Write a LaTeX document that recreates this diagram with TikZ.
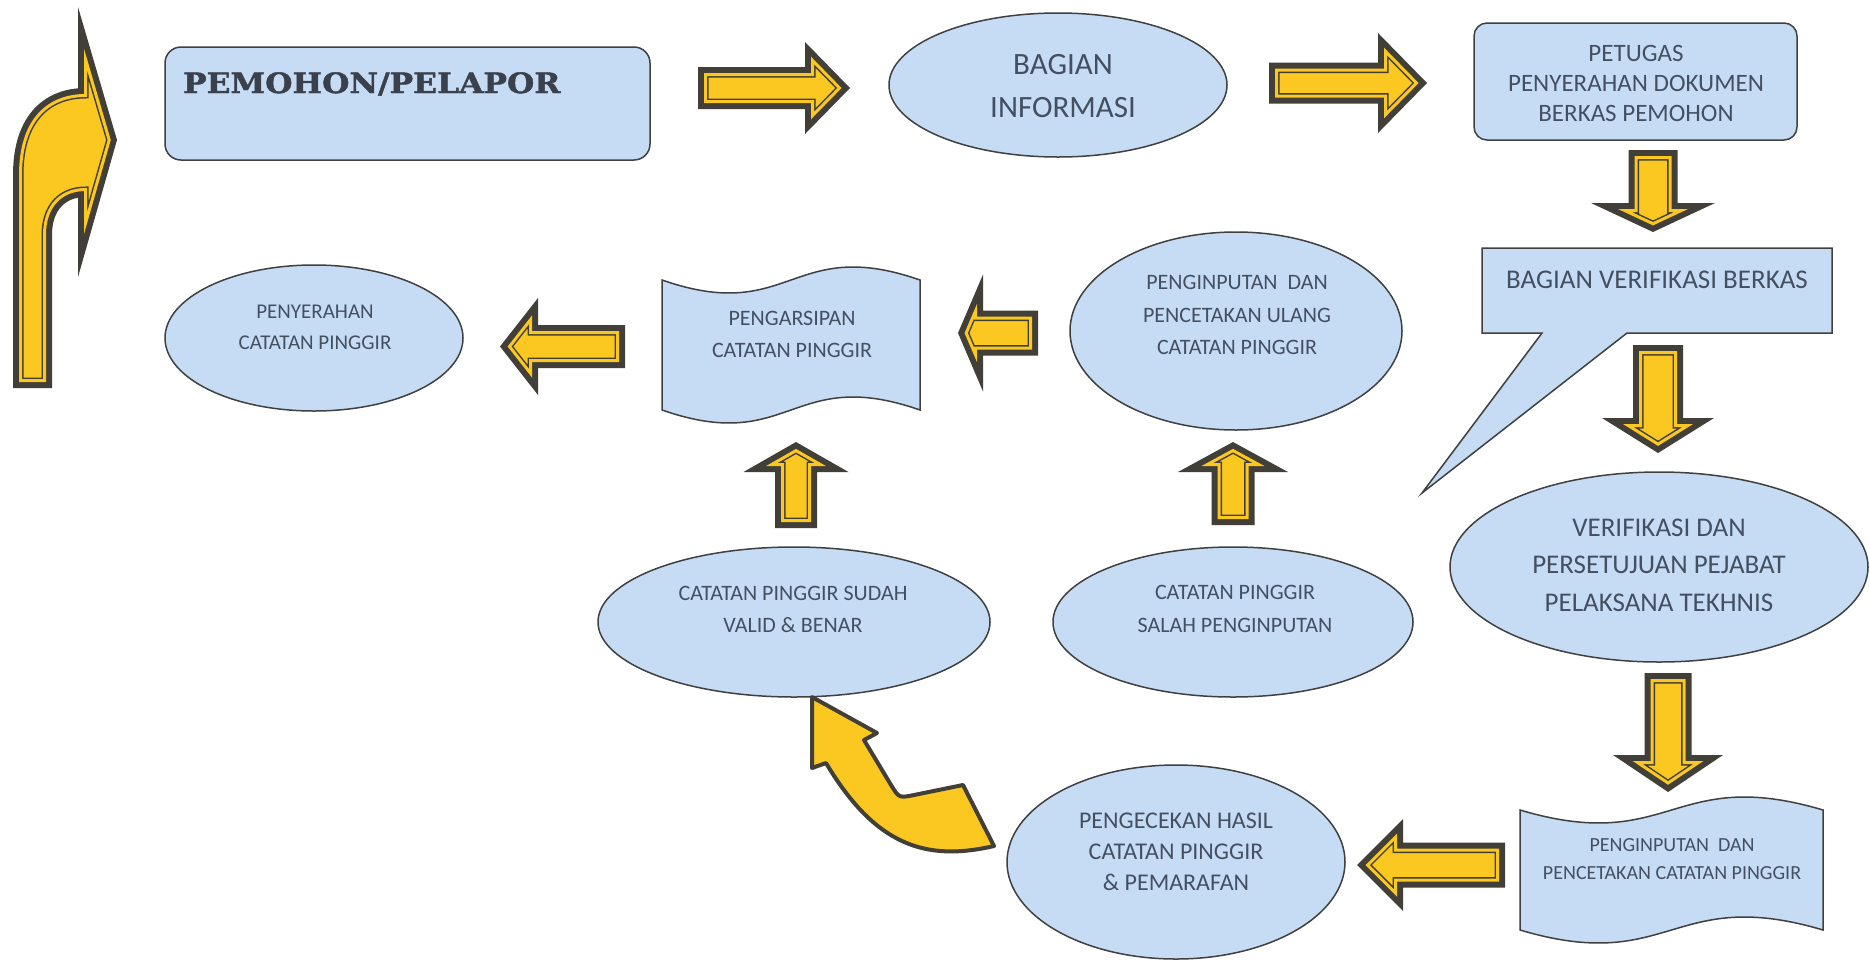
\documentclass[tikz,border=0pt]{standalone}
\usepackage{fontspec}
\setmainfont{Carlito}
\newfontfamily\slabfont{DejaVu Serif}[BoldFeatures={FakeBold=1.4}]
\usetikzlibrary{shapes.geometric,calc}

\definecolor{boxfill}{RGB}{198,220,244}
\definecolor{boxline}{RGB}{64,64,64}
\definecolor{labeltext}{RGB}{68,80,98}
\definecolor{titletext}{RGB}{58,64,76}
\definecolor{agold}{RGB}{250,200,32}
\definecolor{adark}{RGB}{66,62,56}

\tikzset{
  shapebox/.style={fill=boxfill, draw=boxline, line width=1.5pt},
  oval/.style={shapebox, ellipse, inner sep=0pt},
  plain/.style={inner sep=0pt, outer sep=0pt},
  lbl/.style={text=labeltext, align=center, inner sep=0pt},
  blk/.style={line join=miter,
    preaction={draw=adark, line width=15pt, line join=miter},
    fill=agold,
    postaction={draw=adark, line width=1.5pt, double=agold, double distance=3pt, line join=miter}},
  swoosh/.style={fill=agold, draw=adark, line width=4pt, line join=round},
}

% inset of the yellow band from the outer dark outline
\def\blkD{7.5}

% horizontal block arrow, given its outer outline:
% #1 centre y, #2 tail x, #3 tip x, #4 body half width, #5 head half width, #6 head length
\newcommand\blkh[6]{%
  \pgfmathsetmacro\blkS{sign(#3-#2)}%
  \pgfmathsetmacro\blkL{sqrt((#6)^2+(#5)^2)}%
  \pgfmathsetmacro\blkT{#2+\blkS*\blkD}%
  \pgfmathsetmacro\blkB{#3-\blkS*(#6)+\blkS*\blkD}%
  \pgfmathsetmacro\blkP{#3-\blkS*\blkD*\blkL/(#5)}%
  \pgfmathsetmacro\blkW{#4-\blkD}%
  \pgfmathsetmacro\blkH{#5-\blkD*(#5)/(#6)-\blkD*\blkL/(#6)}%
  \path[blk] ({\blkT},{#1-\blkW}) -- ({\blkB},{#1-\blkW}) -- ({\blkB},{#1-\blkH})
    -- ({\blkP},{#1}) -- ({\blkB},{#1+\blkH}) -- ({\blkB},{#1+\blkW})
    -- ({\blkT},{#1+\blkW}) -- cycle;}

% vertical block arrow: #1 centre x, #2 tail y, #3 tip y, #4 body half width, #5 head half width, #6 head length
\newcommand\blkv[6]{%
  \pgfmathsetmacro\blkS{sign(#3-#2)}%
  \pgfmathsetmacro\blkL{sqrt((#6)^2+(#5)^2)}%
  \pgfmathsetmacro\blkT{#2+\blkS*\blkD}%
  \pgfmathsetmacro\blkB{#3-\blkS*(#6)+\blkS*\blkD}%
  \pgfmathsetmacro\blkP{#3-\blkS*\blkD*\blkL/(#5)}%
  \pgfmathsetmacro\blkW{#4-\blkD}%
  \pgfmathsetmacro\blkH{#5-\blkD*(#5)/(#6)-\blkD*\blkL/(#6)}%
  \path[blk] ({#1-\blkW},{\blkT}) -- ({#1-\blkW},{\blkB}) -- ({#1-\blkH},{\blkB})
    -- ({#1},{\blkP}) -- ({#1+\blkH},{\blkB}) -- ({#1+\blkW},{\blkB})
    -- ({#1+\blkW},{\blkT}) -- cycle;}

\begin{document}
\begin{tikzpicture}[x=1pt, y=-1pt]
\useasboundingbox (0,0) rectangle (1870,962);
\fill[white] (0,0) rectangle (1870,962);

% ---------- shapes ----------
\node[shapebox, rounded corners=16pt, minimum width=485pt, minimum height=113pt, plain] (pemohon) at (407.5,103.5) {};
\node[oval, minimum width=338pt, minimum height=144pt] (info) at (1058,85) {};
\node[shapebox, rounded corners=13pt, minimum width=323pt, minimum height=117pt, plain] (petugas) at (1635.5,81.5) {};

\node[plain, minimum width=350pt, minimum height=85pt] (verif) at (1657,290.5) {};
\coordinate (verif-tip) at (1422,493);
\path[shapebox] (verif.north west) -- (verif.north east) -- (verif.south east)
  -- ($(verif.south west)+(145,0)$) -- (verif-tip) -- ($(verif.south west)+(60,0)$)
  -- (verif.south west) -- cycle;

\node[oval, minimum width=418pt, minimum height=190pt] (verifdan) at (1659,567) {};

\node[plain, minimum width=303pt, minimum height=120pt] (input) at (1671.5,870) {};
\path[shapebox] (input.north west) .. controls ($(input.north)+(0,45)$) and ($(input.north)+(0,-45)$) .. (input.north east)
  -- (input.south east) .. controls ($(input.south)+(0,-45)$) and ($(input.south)+(0,45)$) .. (input.south west) -- cycle;

\node[oval, minimum width=338pt, minimum height=194pt] (cek) at (1176,862) {};
\node[oval, minimum width=360pt, minimum height=150pt] (salah) at (1233,622) {};
\node[oval, minimum width=332pt, minimum height=198pt] (ulang) at (1236,331) {};

\node[plain, minimum width=258pt, minimum height=130pt] (arsip) at (791,345) {};
\path[shapebox] (arsip.north west) .. controls ($(arsip.north)+(0,45)$) and ($(arsip.north)+(0,-45)$) .. (arsip.north east)
  -- (arsip.south east) .. controls ($(arsip.south)+(0,-45)$) and ($(arsip.south)+(0,45)$) .. (arsip.south west) -- cycle;

\node[oval, minimum width=392pt, minimum height=150pt] (sudah) at (794,622) {};
\node[oval, minimum width=298pt, minimum height=146pt] (serah) at (314,338) {};

% ---------- labels ----------
\node[anchor=base west, plain, text=titletext, font=\slabfont\bfseries\fontsize{28}{30}\selectfont] (pemohon-t) at (183,93) {\scalebox{1.12}[1]{PEMOHON/PELAPOR}};
\node[lbl, font=\fontsize{31}{43}\selectfont] (info-t) at (1063,86.5) {BAGIAN\\INFORMASI};
\node[lbl, font=\fontsize{25}{30}\selectfont] (petugas-t) at (1636,83) {PETUGAS\\PENYERAHAN DOKUMEN\\BERKAS PEMOHON};
\node[lbl, font=\fontsize{27}{32}\selectfont] (verif-t) at (1657,280) {BAGIAN VERIFIKASI BERKAS};
\node[lbl, font=\fontsize{27}{37.5}\selectfont] (verifdan-t) at (1659,565.3) {VERIFIKASI DAN\\PERSETUJUAN PEJABAT\\PELAKSANA TEKHNIS};
\node[lbl, font=\fontsize{20}{28}\selectfont] (input-t) at (1672,859) {PENGINPUTAN~~DAN\\PENCETAKAN CATATAN PINGGIR};
\node[lbl, font=\fontsize{24}{31}\selectfont] (cek-t) at (1176,851.7) {PENGECEKAN HASIL\\CATATAN PINGGIR\\\& PEMARAFAN};
\node[lbl, font=\fontsize{22}{33}\selectfont] (salah-t) at (1235,608.5) {CATATAN PINGGIR\\SALAH PENGINPUTAN};
\node[lbl, font=\fontsize{22}{32.5}\selectfont] (ulang-t) at (1237,315.3) {PENGINPUTAN~~DAN\\PENCETAKAN ULANG\\CATATAN PINGGIR};
\node[lbl, font=\fontsize{22}{32}\selectfont] (arsip-t) at (792,334) {PENGARSIPAN\\CATATAN PINGGIR};
\node[lbl, font=\fontsize{22}{32}\selectfont] (sudah-t) at (793,609) {CATATAN PINGGIR SUDAH\\VALID \& BENAR};
\node[lbl, font=\fontsize{21}{31}\selectfont] (serah-t) at (315,327.5) {PENYERAHAN\\CATATAN PINGGIR};

% ---------- block arrows ----------
\blkh{88}{698}{850}{21}{46}{45}
\blkh{83}{1269}{1427}{20.5}{50}{49}
\blkv{1653}{150}{232}{24.5}{62}{29}
\blkv{1658}{345}{453}{25}{56}{35}
\blkv{1668}{673}{792}{23.5}{55}{37}
\blkh{865}{1505}{1357}{22.5}{46}{46}
\blkv{1233}{525}{442}{21.5}{55}{30}
\blkh{333}{1038}{958}{22.5}{58.5}{25}
\blkv{796}{528}{442}{21}{52.5}{30}
\blkh{346.5}{625}{500}{21.5}{48.5}{38}

% bent arrow rising into the first box
\path[blk] (20.5,380.5) -- (20.5,175) .. controls (20.5,118) and (50,95.5) .. (85.5,95.5)
  -- (85.5,59.2) -- (109.2,140) -- (85.5,223.3) -- (85.5,189.5)
  .. controls (62,189.5) and (44.5,205) .. (44.5,235) -- (44.5,380.5) -- cycle;

% bent arrow from the check step back to the validated step
\path[swoosh] (812,697) -- (877,733) -- (864,740) -- (891,785) .. controls (899,798) .. (914,795)
  -- (963,785) -- (994,846) .. controls (925,862) and (875,845) .. (826,763)
  -- (812,768) -- cycle;

\end{tikzpicture}
\end{document}
